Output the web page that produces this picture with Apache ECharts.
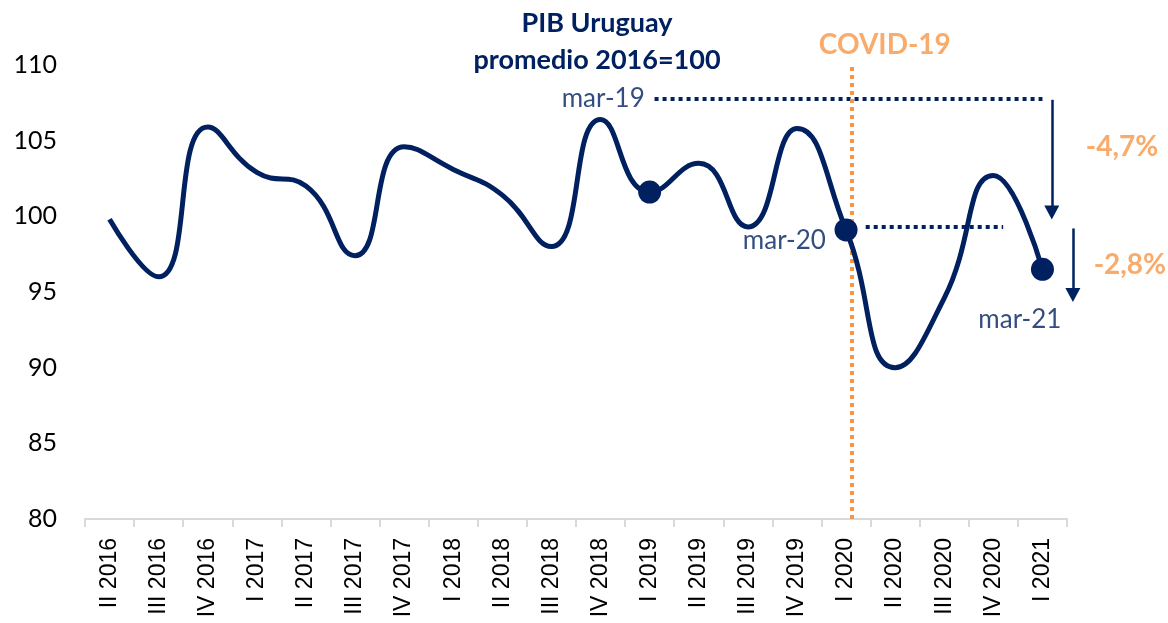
<!DOCTYPE html>
<html>
<head>
<meta charset="utf-8">
<script src="https://cdn.jsdelivr.net/npm/echarts@6/dist/echarts.min.js"></script>
<style>
  html, body { margin: 0; padding: 0; background: #fff; }
  #chart { width: 1168px; height: 623px; }
</style>
</head>
<body>
<div id="chart"></div>
<script>
// quarters on the x axis
var quarters = ['II 2016', 'III 2016', 'IV 2016', 'I 2017', 'II 2017', 'III 2017', 'IV 2017',
  'I 2018', 'II 2018', 'III 2018', 'IV 2018', 'I 2019', 'II 2019', 'III 2019', 'IV 2019',
  'I 2020', 'II 2020', 'III 2020', 'IV 2020', 'I 2021'];
// PIB index, promedio 2016 = 100
var pibIndex = [99.8, 96.0, 105.9, 102.9, 102.0, 97.4, 104.6, 103.1, 101.4, 98.0,
  106.4, 101.6, 103.5, 99.3, 105.8, 99.1, 90.0, 94.6, 102.7, 96.5];
// quarters that get a dot
var markedQuarters = ['I 2019', 'I 2020', 'I 2021'];
var yTicks = { min: 80, max: 110, step: 5 };

// annotations, in (quarter index, index value) units
var dottedGuides = [[11.1, 107.8, 19.0, 107.8], [15.4, 99.3, 18.2, 99.3]];
var covidLine = [15.12, 80, 15.12, 110];
var dropArrows = [[19.19, 107.7, 19.19, 100.25], [19.62, 99.2, 19.62, 94.8]];
var dateNotes = [['mar-19', 10.9, 107.8, 'right'], ['mar-20', 14.59, 98.4, 'right'], ['mar-21', 18.54, 93.15, 'center']];
var changeNotes = [['-4,7%', 20.62, 104.6], ['-2,8%', 20.78, 96.8], ['COVID-19', 15.79, 111.3]];

var NAVY = '#002060';
var ORANGE = '#F79646';
var W = 1168, LEFT = 85, RIGHT = 101, TOP = 65, BOTTOM = 104;
var chart = echarts.init(document.getElementById('chart'));

// the annotation grid runs to the right edge, with the same units per quarter as the category axis
var pxPerQuarter = (W - LEFT - RIGHT) / quarters.length;
var noteMaxX = -0.5 + (W - LEFT) / pxPerQuarter;

var lineData = pibIndex.map(function (v, i) {
  var marked = markedQuarters.indexOf(quarters[i]) >= 0;
  return { value: v, symbol: marked ? 'circle' : 'none', symbolSize: marked ? 23 : 0 };
});

var markLines = [];
dottedGuides.forEach(function (g) {
  markLines.push([{ coord: [g[0], g[1]], lineStyle: { color: NAVY, width: 4, type: [4, 4] } }, { coord: [g[2], g[3]] }]);
});
markLines.push([{ coord: [covidLine[0], covidLine[1]], lineStyle: { color: ORANGE, width: 4, type: [4, 4] } }, { coord: [covidLine[2], covidLine[3]] }]);
dropArrows.forEach(function (a) {
  markLines.push([{ coord: [a[0], a[1]], symbol: 'none', lineStyle: { color: NAVY, width: 2.5, type: 'solid' } },
    { coord: [a[2], a[3]], symbol: 'triangle', symbolSize: [15, 14], symbolRotate: 180 }]);
});

var noteData = [];
dateNotes.forEach(function (n) {
  noteData.push({ value: [n[1], n[2]], label: { show: true, formatter: n[0], position: 'inside', align: n[3],
    color: NAVY, fontFamily: 'Lato', fontSize: 26 } });
});
changeNotes.forEach(function (n) {
  noteData.push({ value: [n[1], n[2]], label: { show: true, formatter: n[0], position: 'inside', align: 'center',
    color: ORANGE, fontFamily: 'Lato', fontWeight: 'bold', fontSize: 28 } });
});

var option = {
  animation: false,
  backgroundColor: '#fff',
  grid: [
    { left: LEFT, right: RIGHT, top: TOP, bottom: BOTTOM, containLabel: false },
    { left: LEFT, right: 0, top: TOP, bottom: BOTTOM, containLabel: false }
  ],
  graphic: [{
    type: 'text', x: 597, y: 5,
    style: { text: 'PIB Uruguay\npromedio 2016=100', align: 'center', verticalAlign: 'top', lineHeight: 37,
      fill: NAVY, font: 'bold 27px Lato' }
  }],
  xAxis: [{
    type: 'category',
    gridIndex: 0,
    data: quarters,
    boundaryGap: true,
    axisLine: { lineStyle: { color: '#d9d9d9', width: 2 } },
    axisTick: { show: true, length: 8, interval: 0, lineStyle: { color: '#d9d9d9', width: 2 } },
    axisLabel: { interval: 0, rotate: 90, margin: 19, color: '#000', fontFamily: 'Liberation Sans', fontSize: 23 },
    splitLine: { show: false }
  }, {
    type: 'value', gridIndex: 1, min: -0.5, max: noteMaxX, show: false
  }],
  yAxis: [{
    type: 'value',
    gridIndex: 0,
    min: yTicks.min, max: yTicks.max, interval: yTicks.step,
    axisLine: { show: false },
    axisTick: { show: false },
    splitLine: { show: false },
    axisLabel: { margin: 28, color: '#000', fontFamily: 'Lato', fontSize: 25 }
  }, {
    type: 'value', gridIndex: 1, min: yTicks.min, max: yTicks.max, show: false
  }],
  series: [{
    type: 'line',
    data: lineData,
    smooth: 0.5,
    lineStyle: { color: NAVY, width: 5 },
    itemStyle: { color: NAVY },
    z: 5
  }, {
    type: 'scatter',
    xAxisIndex: 1,
    yAxisIndex: 1,
    clip: false,
    symbolSize: 0,
    silent: true,
    data: noteData,
    markLine: { silent: true, symbol: 'none', label: { show: false }, data: markLines, z: 3 },
    z: 6
  }]
};
chart.setOption(option);
</script>
</body>
</html>
